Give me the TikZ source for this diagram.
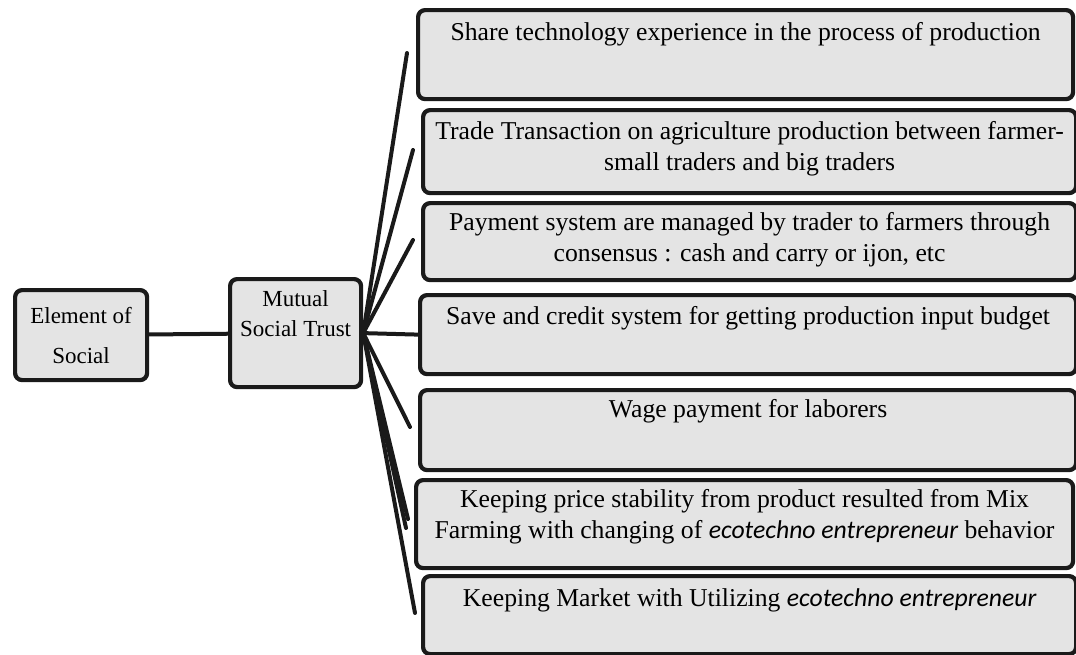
\documentclass[tikz,border=0pt]{standalone}
\usepackage{fontspec}
\setmainfont{Liberation Serif}
\newfontfamily\calibri{Carlito}
\definecolor{boxfill}{HTML}{E4E4E4}
\definecolor{edge}{HTML}{1A1A1A}
% italic sans words inside the serif text
\newcommand{\eco}[1]{{\calibri\itshape #1}}
% text set at the top of a box of given width and height
\newcommand{\topbox}[4]{\parbox[c][#2][t]{#1}{\centering\vspace*{#3}\strut#4}}
\begin{document}
\begin{tikzpicture}[x=1pt, y=-1pt, line join=round,
    box/.style={draw=edge, fill=boxfill, line width=4.2pt, rounded corners=7pt, inner sep=0pt, anchor=north west},
    item/.style={box, font=\fontsize{25.7}{31}\selectfont},
    link/.style={draw=edge, line width=4pt, line cap=round}]
    \useasboundingbox (0,0) rectangle (1076,654);

    % left side
    \node[box, font=\fontsize{23}{40}\selectfont] (element) at (13,288) {\parbox[c][90pt][c]{132pt}{\centering Element of\\Social}};
    \node[box, font=\fontsize{23}{30}\selectfont] (trust) at (228,277) {\topbox{131pt}{108pt}{6pt}{Mutual\\Social Trust}};

    % right side
    \node[item] (share) at (416,8) {\topbox{655pt}{89pt}{9pt}{Share technology experience in the process of production}};
    \node[item] (trade) at (421,108) {\topbox{653pt}{83pt}{8pt}{Trade Transaction on agriculture production between farmer-\\small traders and big traders}};
    \node[item] (payment) at (421,201) {\topbox{653pt}{77pt}{6pt}{Payment system are managed by trader to farmers through\\consensus : cash and carry or ijon, etc}};
    \node[item] (credit) at (418,293) {\topbox{656pt}{79pt}{8pt}{Save and credit system for getting production input budget}};
    \node[item] (wage) at (418,388) {\topbox{656pt}{80pt}{6pt}{Wage payment for laborers}};
    \node[item] (price) at (414,478) {\topbox{657pt}{88pt}{6pt}{Keeping price stability from product resulted from Mix\\Farming with changing of \eco{ecotechno entrepreneur} behavior}};
    \node[item] (market) at (421,574) {\topbox{653pt}{78pt}{9pt}{Keeping Market with Utilizing \eco{ecotechno entrepreneur}}};

    % loose ends of the spokes
    \coordinate (end1) at (407,53);
    \coordinate (end2) at (413,150);
    \coordinate (end3) at (413,240);
    \coordinate (end5) at (410,427);
    \coordinate (end6) at (408,519);
    \coordinate (end6b) at (406,528);
    \coordinate (end7) at (415,613);

    \draw[link] (element) -- (trust);
    \draw[link] (trust.east) -- (end1);
    \draw[link] (trust.east) -- (end2);
    \draw[link] (trust.east) -- (end3);
    \draw[link] (trust.east) -- (credit.west);
    \draw[link] (trust.east) -- (end5);
    \draw[link] (trust.east) -- (end6);
    \draw[link] (trust.east) -- (end6b);
    \draw[link] (trust.east) -- (end7);
\end{tikzpicture}
\end{document}
